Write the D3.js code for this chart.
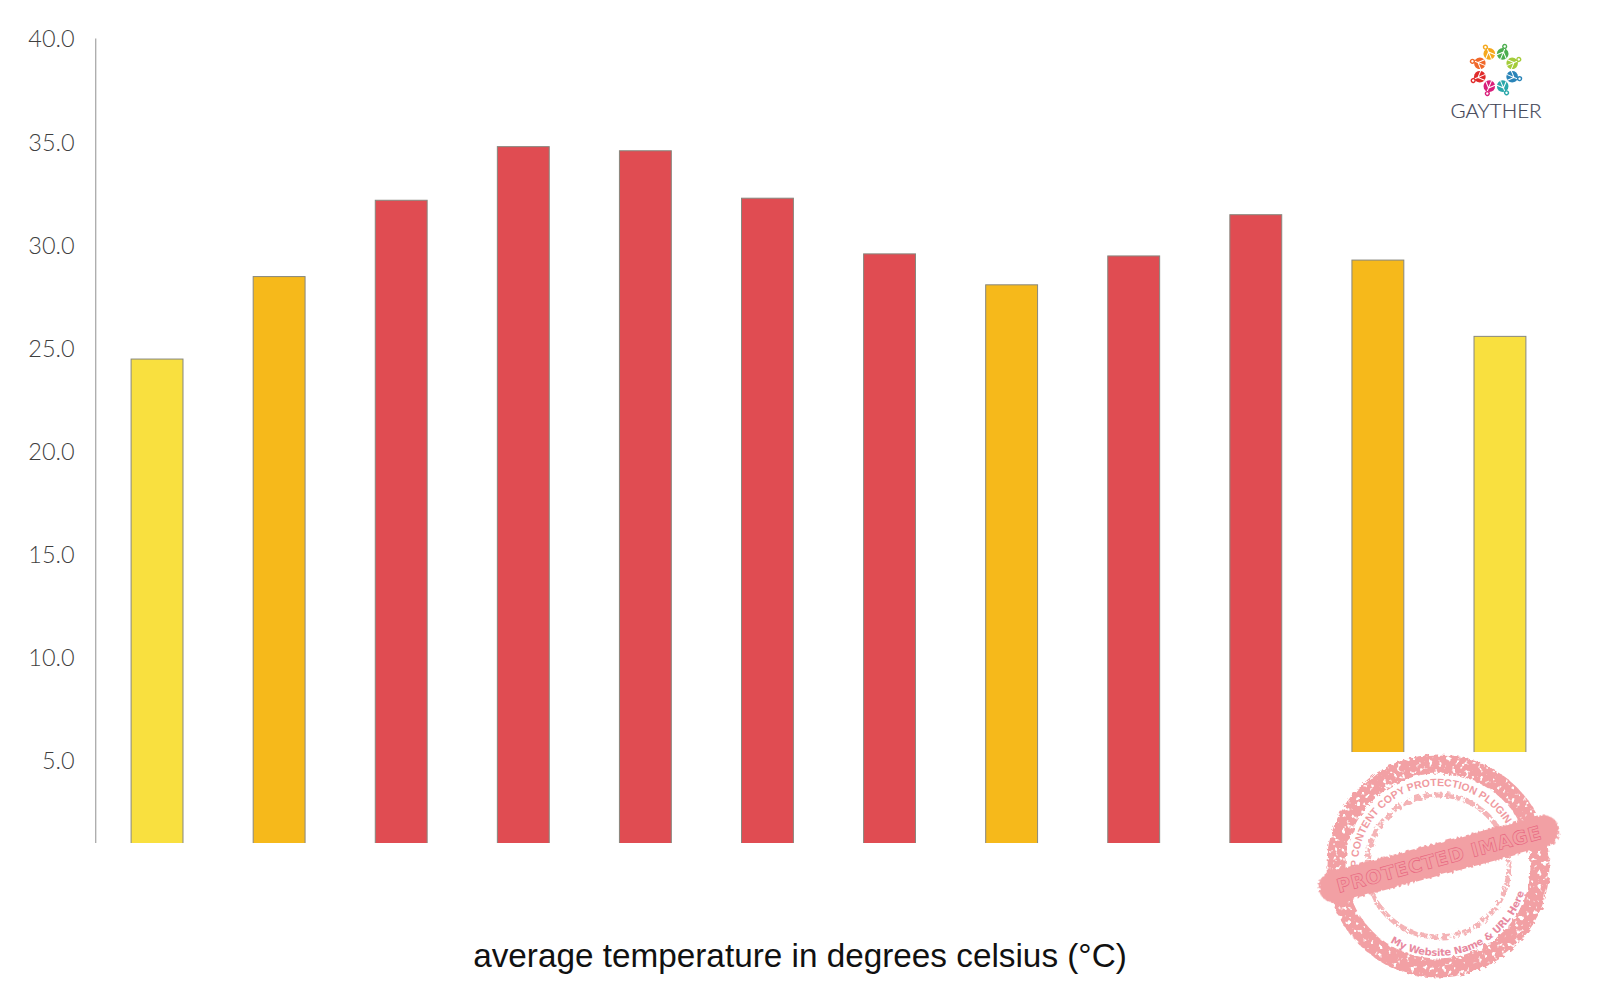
<!DOCTYPE html>
<html><head><meta charset="utf-8">
<script src="https://cdn.jsdelivr.net/npm/d3@7"></script>
<style>html,body{margin:0;padding:0;background:#fff;overflow:hidden}svg{display:block}</style>
</head><body><svg id="c" width="1600" height="1000"></svg>
<script>
const months = ["1","2","3","4","5","6","7","8","9","10","11","12"];
const temperatures = [24.5,28.5,32.2,34.8,34.6,32.3,29.6,28.1,29.5,31.5,29.3,25.6];
const barBands = ["y","o","r","r","r","r","r","o","r","r","o","y"];
const bandColors = {y:"#f9e03f",o:"#f6b91b",r:"#e04c52"};
const yTicks = [5,10,15,20,25,30,35,40];
const xTitle = "average temperature in degrees celsius (°C)";
const logoColors = ["#f5a81c","#4cae4f","#a4cc3a","#2a84b8","#2ba8ab","#d91e7a","#e02b2b","#f0682a"];

const svg = d3.select("#c");
const defs = svg.append("defs");
defs.append("clipPath").attr("id","plot").append("rect").attr("x",0).attr("y",0).attr("width",1600).attr("height",843);

const x = d3.scaleBand().domain(months).range([96,1561]).paddingInner(0.575).paddingOuter(0.2875);
const y = d3.scaleLinear().domain([1,40]).range([843.7,39.4]);

svg.append("g").attr("clip-path","url(#plot)").selectAll("rect").data(temperatures).join("rect")
  .attr("x",(d,i)=>x(months[i])).attr("y",d=>y(d))
  .attr("width",x.bandwidth()).attr("height",d=>y(1)-y(d)+4)
  .attr("fill",(d,i)=>bandColors[barBands[i]])
  .attr("stroke","#87877e").attr("stroke-width",1);

const ax = svg.append("g").attr("transform","translate(95.7,0)")
  .call(d3.axisLeft(y).tickValues(yTicks).tickSize(0).tickPadding(21).tickFormat(d3.format(".1f")));
ax.select(".domain").attr("stroke","#aaaaaa").attr("stroke-width",1.3).attr("d","M0,843V38.5");
ax.selectAll("text").attr("font-family","Lato").attr("font-size",23.5).attr("font-weight",300).attr("fill","#3f3f3f");

svg.append("text").attr("x",800).attr("y",966.6).attr("text-anchor","middle")
  .attr("font-family","Liberation Sans").attr("font-size",33.3).attr("fill","#111").text(xTitle);

// logo
const logo = svg.append("g").attr("transform","translate(1496,70)");
logoColors.forEach((col,i)=>{
  const deg = (i-0.5)*45;
  const g = logo.append("g").attr("transform",`rotate(${deg}) translate(0,-17.5)`);
  g.append("circle").attr("r",5.8).attr("fill",col);
  g.append("path").attr("d","M0,-6V6M-5,3L0,-2L5,3").attr("fill","none").attr("stroke","#fff").attr("stroke-width",1);
  g.append("circle").attr("cx",-1).attr("cy",-7.6).attr("r",1.9).attr("fill","#fff").attr("stroke",col).attr("stroke-width",1.4);
});
svg.append("text").attr("x",1496).attr("y",118).attr("text-anchor","middle")
  .attr("font-family","Lato").attr("font-size",20.5).attr("font-weight",300).attr("fill","#3f4456").attr("stroke","#3f4456").attr("stroke-width",0.2).text("GAYTHER");

// watermark stamp
svg.append("rect").attr("x",1300).attr("y",752).attr("width",300).attr("height",248).attr("fill","#fff");
const rough = defs.append("filter").attr("id","rough").attr("x","-10%").attr("y","-10%").attr("width","120%").attr("height","120%");
rough.append("feTurbulence").attr("type","fractalNoise").attr("baseFrequency",0.35).attr("numOctaves",2).attr("seed",4).attr("result","n");
rough.append("feDisplacementMap").attr("in","SourceGraphic").attr("in2","n").attr("scale",5);
const mottled = defs.append("filter").attr("id","mottled").attr("x","-10%").attr("y","-10%").attr("width","120%").attr("height","120%");
mottled.append("feTurbulence").attr("type","fractalNoise").attr("baseFrequency",0.22).attr("numOctaves",2).attr("seed",9).attr("result","n");
mottled.append("feDisplacementMap").attr("in","SourceGraphic").attr("in2","n").attr("scale",6).attr("result","d");
mottled.append("feColorMatrix").attr("in","n").attr("type","matrix")
  .attr("values","0 0 0 0 0  0 0 0 0 0  0 0 0 0 0  8 0 0 0 -2.2").attr("result","m");
mottled.append("feComposite").attr("in","d").attr("in2","m").attr("operator","in");

const st = svg.append("g").attr("transform","translate(1438,866)");
st.append("circle").attr("r",102).attr("fill","none").attr("stroke","#f2a0a4").attr("stroke-width",19).attr("filter","url(#mottled)");
st.append("circle").attr("r",71).attr("fill","none").attr("stroke","#f4b3b6").attr("stroke-width",5).attr("stroke-dasharray","9 2").attr("filter","url(#mottled)");
const rad = d => d*Math.PI/180;
const p1 = d3.path(); p1.arc(0,0,80,rad(172),rad(372));
defs.append("path").attr("id","arcTop").attr("d",p1.toString());
const p2 = d3.path(); p2.arc(0,0,90,rad(122),rad(10),true);
defs.append("path").attr("id","arcBot").attr("d",p2.toString());
st.append("text").attr("font-family","Liberation Sans").attr("font-weight",700).attr("font-size",10.5).attr("fill","#f09aa0")
  .append("textPath").attr("href","#arcTop").attr("textLength",218).attr("lengthAdjust","spacing").text("WP CONTENT COPY PROTECTION PLUGIN");
st.append("text").attr("font-family","DejaVu Sans").attr("font-weight",700).attr("font-size",10).attr("fill","#e88aa0")
  .append("textPath").attr("href","#arcBot").attr("textLength",165).attr("lengthAdjust","spacing").text("My Website Name & URL Here");
const b = svg.append("g").attr("transform","translate(1439,859) rotate(-15)");
b.append("rect").attr("x",-124).attr("y",-16).attr("width",248).attr("height",32).attr("rx",16).attr("fill","#f2a0a4").attr("filter","url(#rough)");
b.append("text").attr("text-anchor","middle").attr("y",7).attr("font-family","DejaVu Sans").attr("font-size",19).attr("font-weight",700)
  .attr("letter-spacing",0.6).attr("fill","none").attr("stroke","#e8647e").attr("stroke-width",0.6).text("PROTECTED IMAGE");
</script></body></html>
